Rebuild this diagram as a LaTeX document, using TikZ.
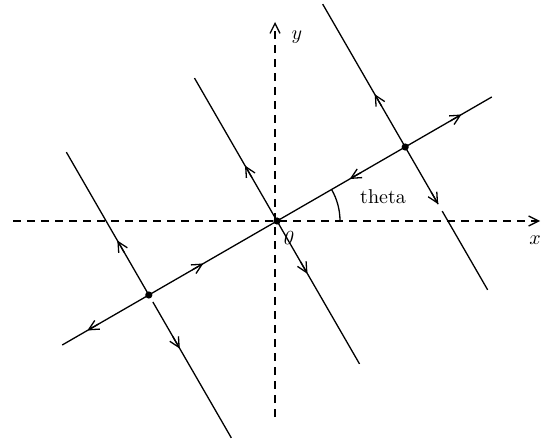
\documentclass[tikz,border=0pt]{standalone}
\usetikzlibrary{arrows.meta,calc}
\begin{document}
\begin{tikzpicture}[x=0.5pt,y=0.5pt,
  ln/.style={line width=0.65pt},
  axis/.style={line width=0.65pt,dash pattern=on 4pt off 3pt},
  arr/.style={line width=0.65pt,-{Straight Barb[length=5pt,width=5pt]}},
  dot/.style={circle,fill,inner sep=0pt,minimum size=3.6pt}]
\useasboundingbox (0,0) rectangle (544,443);
% axes
\coordinate (xs) at (13,222);
\coordinate (xe) at (540,222);
\coordinate (ys) at (275,26);
\coordinate (ye) at (275,421);
\draw[axis,-{Straight Barb[length=5pt,width=5pt]}] (xs) -- (xe);
\draw[axis,-{Straight Barb[length=5pt,width=5pt]}] (ys) -- (ye);
\node (xl) at (535,203) {$x$};
\node (yl) at (297,406) {$y$};
% points
\node[dot] (O) at (277,222) {};
\node[dot] (L) at ($(277,222)+(210:148)$) {};
\node[dot] (R) at ($(277,222)+(30:148)$) {};
% main line
\coordinate (A1) at ($(O.center)+(210:248)$);
\coordinate (A2) at ($(O.center)+(30:248)$);
\draw[ln] (A1) -- (A2);
% perpendicular lines
\coordinate (Ot) at ($(O.center)+(120:165)$);
\coordinate (Ob) at ($(O.center)+(-60:165)$);
\draw[ln] (Ot) -- (Ob);
\coordinate (Lt) at ($(L.center)+(120:165)$);
\coordinate (Lg) at ($(L.center)+(-60:8)$);
\coordinate (Lb) at ($(L.center)+(-60:165)$);
\draw[ln] (Lt) -- (L.center);
\draw[ln] (Lg) -- (Lb);
\coordinate (Rt) at ($(R.center)+(120:165)$);
\coordinate (Ra) at ($(R.center)+(-60:66)$);
\coordinate (Rg) at ($(R.center)+(-60:74)$);
\coordinate (Rb) at ($(R.center)+(-60:165)$);
\draw[ln] (Rt) -- (R.center);
\draw[ln] (R.center) -- (Ra);
\draw[ln] (Rg) -- (Rb);
% arrows on main line
\draw[arr] ($(O.center)+(30:200)$) -- ($(O.center)+(30:213)$);
\draw[arr] ($(O.center)+(30:97)$) -- ($(O.center)+(30:84)$);
\draw[arr] ($(O.center)+(210:98)$) -- ($(O.center)+(210:85)$);
\draw[arr] ($(O.center)+(210:206)$) -- ($(O.center)+(210:219)$);
% arrows on perpendicular lines
\draw[arr] ($(O.center)+(120:50)$) -- ($(O.center)+(120:64)$);
\draw[arr] ($(O.center)+(-60:47)$) -- ($(O.center)+(-60:61)$);
\draw[arr] ($(L.center)+(120:49)$) -- ($(L.center)+(120:63)$);
\draw[arr] ($(L.center)+(-60:48)$) -- ($(L.center)+(-60:62)$);
\draw[arr] ($(R.center)+(120:47)$) -- ($(R.center)+(120:61)$);
\draw[arr] ($(R.center)+(-60:52)$) -- (Ra);
% angle
\draw[ln] ($(O.center)+(0:31.5pt)$) arc[start angle=0,end angle=30,radius=31.5pt];
\node (th) at (383,246) {theta};
\node (ol) at (288,205) {\textit{0}};
\end{tikzpicture}
\end{document}
